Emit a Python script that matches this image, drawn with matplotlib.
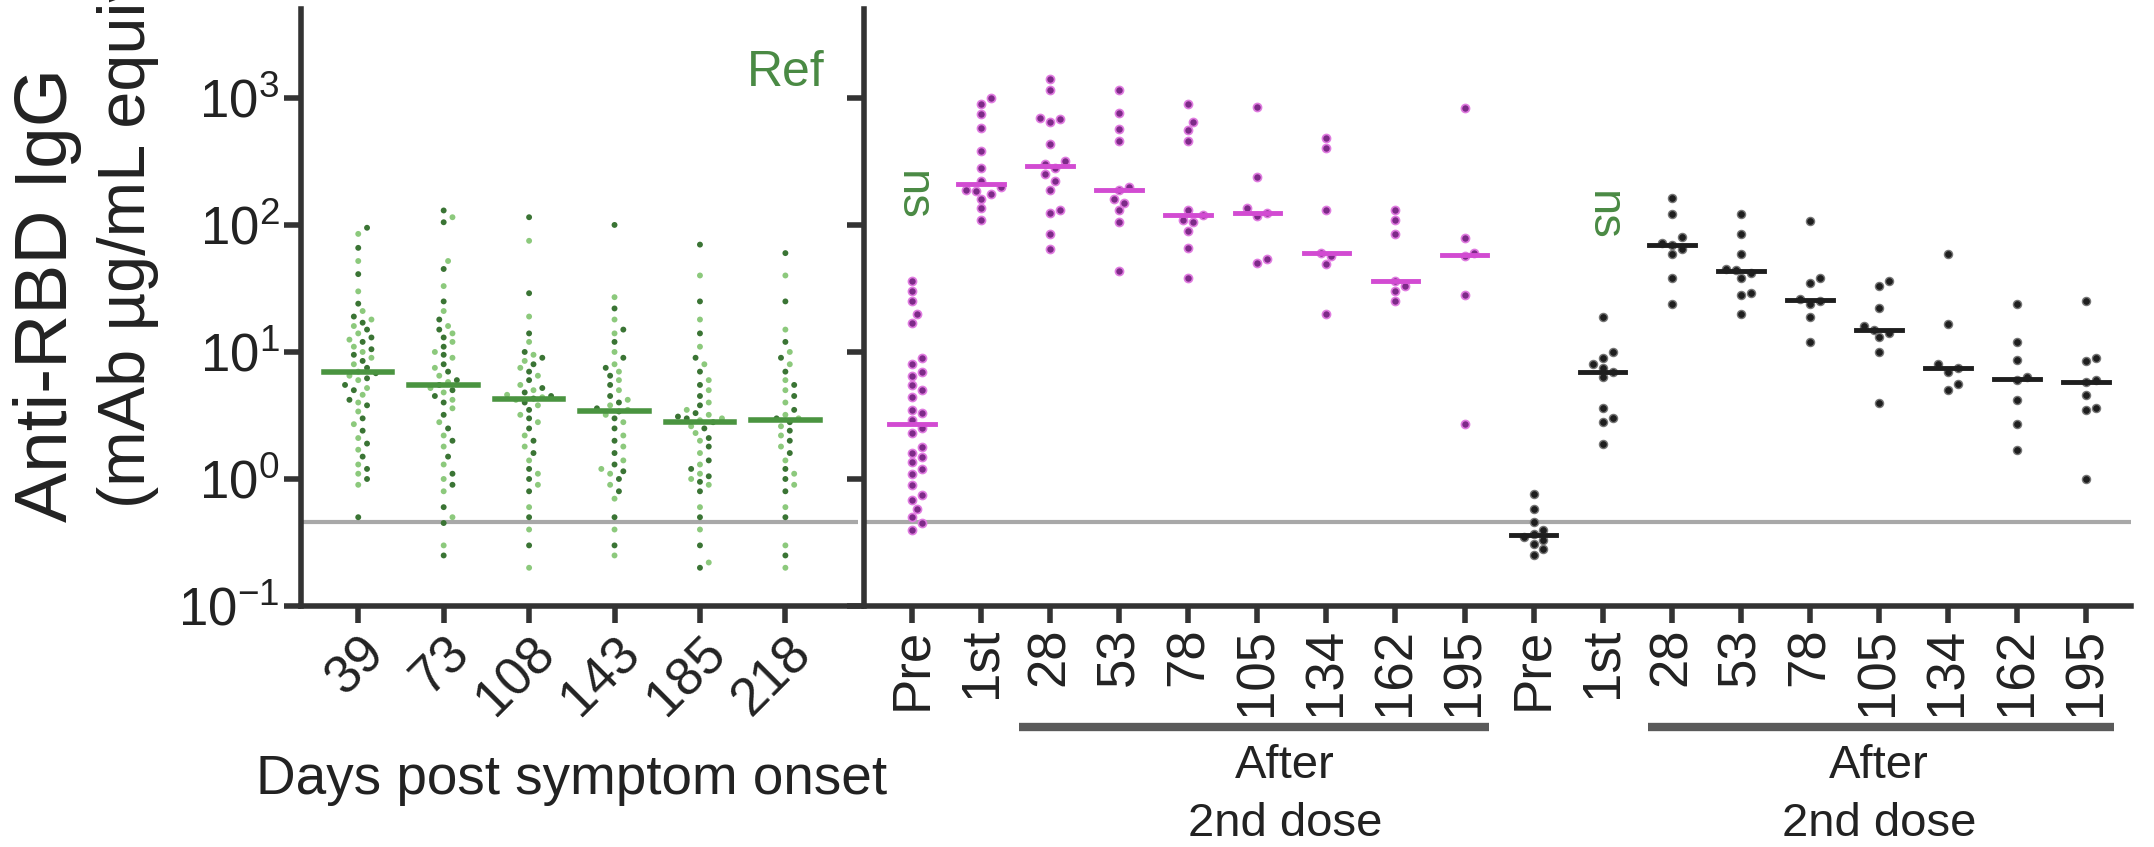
import numpy as np
import matplotlib
matplotlib.use("Agg")
import matplotlib.pyplot as plt
import matplotlib.transforms as mtransforms

plt.rcParams['font.family'] = ['Liberation Sans', 'DejaVu Sans']
plt.rcParams['mathtext.fontset'] = 'custom'
plt.rcParams['mathtext.rm'] = 'Liberation Sans'
plt.rcParams['mathtext.it'] = 'Liberation Sans:italic'
plt.rcParams['mathtext.bf'] = 'Liberation Sans:bold'

# ---- datos ----
days_labels = ["39", "73", "108", "143", "185", "218"]
d39 = [95, 85, 66, 52, 41, 30, 24, 21, 19, 18, 17, 16, 15, 14, 13, 12.5, 12, 11, 10.5, 10, 9.5, 9,
       8.5, 8, 7.5, 7, 6.8, 6.5, 6.2, 6, 5.5, 5.2, 5, 4.6, 4.2, 4, 3.8, 3.4, 3, 2.7, 2.4, 2.1, 1.9,
       1.7, 1.5, 1.3, 1.2, 1.1, 1.0, 0.9, 0.5]
d73 = [130, 115, 105, 52, 45, 33, 25, 21, 18, 16, 15, 14, 13, 12, 11, 10, 9.5, 9, 8, 7.5, 7, 6.5,
       6, 5.8, 5.5, 5.2, 5, 4.8, 4.5, 4.2, 4, 3.6, 3.2, 2.8, 2.5, 2.2, 2, 1.8, 1.5, 1.3, 1.1, 1.0,
       0.9, 0.8, 0.6, 0.5, 0.45, 0.3, 0.25]
d108 = [115, 75, 29, 19, 14, 12, 10, 9.5, 9, 8.5, 8, 7.5, 7, 6.5, 6, 5.5, 5.2, 5, 4.8, 4.6, 4.5,
        4.4, 4.3, 4.2, 4, 3.8, 3.5, 3.2, 3, 2.8, 2.5, 2.2, 2, 1.8, 1.6, 1.4, 1.2, 1.1, 1.0, 0.9,
        0.8, 0.6, 0.5, 0.4, 0.3, 0.2]
d143 = [100, 27, 22, 18, 15, 14, 12, 10, 9, 8, 7.5, 7, 6.5, 6, 5.5, 5, 4.5, 4.2, 4, 3.8, 3.6,
        3.5, 3.4, 3.2, 3, 2.8, 2.5, 2.2, 2, 1.8, 1.6, 1.4, 1.3, 1.2, 1.15, 1.1, 1.0, 0.9, 0.8,
        0.7, 0.5, 0.4, 0.3, 0.25]
d185 = [70, 40, 25, 18, 14, 11, 9, 8, 7, 6, 5.5, 5, 4.5, 4, 3.8, 3.5, 3.3, 3.2, 3.1, 3, 3, 2.9,
        2.8, 2.6, 2.5, 2.3, 2.1, 2, 1.8, 1.6, 1.4, 1.3, 1.2, 1.1, 1.05, 1.0, 0.95, 0.9, 0.8, 0.6,
        0.5, 0.4, 0.3, 0.22, 0.2]
d218 = [60, 40, 25, 15, 12, 10, 9, 8, 7, 6, 5.5, 5, 4.5, 4, 3.5, 3.2, 3, 3, 2.8, 2.6, 2.4, 2.2,
        2, 1.8, 1.6, 1.4, 1.2, 1.1, 1.0, 0.9, 0.8, 0.6, 0.5, 0.3, 0.25, 0.2]
conv_groups = [d39, d73, d108, d143, d185, d218]

vax_labels = ["Pre", "1st", "28", "53", "78", "105", "134", "162", "195"]
# grupo 1 (magenta)
v1_pre = [36, 30, 25, 20, 17, 9, 8, 7, 6.5, 5.5, 5, 4.4, 3.5, 3.3, 2.9, 2.5, 2.3, 1.8, 1.6, 1.5,
          1.35, 1.2, 1.1, 0.9, 0.75, 0.68, 0.58, 0.5, 0.45, 0.4]
v1_1st = [1000, 900, 750, 580, 380, 280, 220, 200, 190, 185, 175, 160, 135, 110]
v1_28 = [1400, 1150, 700, 680, 650, 430, 320, 300, 280, 250, 220, 190, 130, 125, 85, 65]
v1_53 = [1150, 760, 570, 460, 200, 190, 160, 150, 130, 105, 43]
v1_78 = [900, 650, 560, 460, 130, 120, 110, 105, 90, 66, 38]
v1_105 = [850, 240, 135, 125, 118, 54, 50]
v1_134 = [480, 400, 130, 60, 57, 49, 20]
v1_162 = [130, 110, 85, 36, 33, 30, 25]
v1_195 = [830, 79, 60, 57, 28, 2.7]
# grupo 2 (negro)
v2_pre = [0.76, 0.58, 0.46, 0.4, 0.37, 0.35, 0.33, 0.31, 0.28, 0.25]
v2_1st = [19, 10, 9, 8, 7.5, 7, 6.3, 3.6, 3.0, 2.8, 1.9]
v2_28 = [163, 122, 80, 72, 70, 65, 59, 38, 24]
v2_53 = [122, 85, 59, 45, 44, 42, 38, 29, 28, 20]
v2_78 = [108, 38, 35, 26, 25, 24, 19, 12]
v2_105 = [36, 33, 22, 16, 15, 14, 13, 10, 4]
v2_134 = [59, 16.5, 8, 7.5, 7, 5.6, 5]
v2_162 = [24, 12, 8.6, 6.3, 6, 4.2, 2.7, 1.7]
v2_195 = [25, 9, 8.5, 6, 5.8, 4.6, 3.6, 3.5, 1.0]
vax1 = [v1_pre, v1_1st, v1_28, v1_53, v1_78, v1_105, v1_134, v1_162, v1_195]
vax2 = [v2_pre, v2_1st, v2_28, v2_53, v2_78, v2_105, v2_134, v2_162, v2_195]

lod = 0.46

W, H = 2154, 847
fig = plt.figure(figsize=(W / 100, H / 100), dpi=100, facecolor='white')

ax_bot, ax_top = 606, 9
axL = fig.add_axes([301 / W, 1 - ax_bot / H, (858 - 301) / W, (ax_bot - ax_top) / H])
axR = fig.add_axes([864 / W, 1 - ax_bot / H, (2131 - 864) / W, (ax_bot - ax_top) / H])

ymin, ymax = 0.1, 10 ** 3.7
px_dec = (ax_bot - ax_top) / np.log10(ymax / ymin)


def swarm(vals, xc, px_unit, dpx):
    """offsets tipo beeswarm en unidades de x"""
    ly = np.log10(np.asarray(vals, float)) * px_dec
    order = np.argsort(ly)
    placed = []
    xs = np.zeros(len(vals))
    step = dpx * 0.55
    for i in order:
        k = 0
        while True:
            cands = [0.0] if k == 0 else [k * step, -k * step]
            ok = None
            for c in cands:
                if all((c - px) ** 2 + (ly[i] - py) ** 2 >= dpx ** 2 for px, py in placed):
                    ok = c
                    break
            if ok is not None:
                break
            k += 1
        placed.append((ok, ly[i]))
        xs[i] = xc + ok / px_unit
    return xs


axis_col = '#333333'
for ax in (axL, axR):
    ax.set_yscale('log')
    ax.set_ylim(ymin, ymax)
    ax.spines['top'].set_visible(False)
    ax.spines['right'].set_visible(False)
    for s in ('left', 'bottom'):
        ax.spines[s].set_linewidth(4)
        ax.spines[s].set_color(axis_col)
    ax.tick_params(axis='both', which='major', length=12, width=4, color=axis_col,
                   labelsize=38, labelcolor='#222222', direction='out')
    ax.tick_params(axis='y', which='minor', length=0)
    ax.axhline(lod, color='#a8a8a8', lw=3, zorder=1)

axL.set_yticks([0.1, 1, 10, 100, 1000])
axR.set_yticks([0.1, 1, 10, 100, 1000])
axR.tick_params(axis='y', labelleft=False)

# panel izquierdo: convalecientes
axL.set_xlim(-0.67, 5.85)
pxL = (858 - 301) / (5.85 + 0.67)
green_dk, green_lt = '#3a7434', '#8cc97c'
for i, vals in enumerate(conv_groups):
    xs = swarm(vals, i, pxL, 8)
    cols = [green_dk if j % 2 == 0 else green_lt for j in range(len(vals))]
    axL.scatter(xs, vals, s=18, c=cols, edgecolors='none', zorder=3)
    m = np.median(vals)
    axL.plot([i - 0.4, i + 0.4], [m, m], color='#4a9440', lw=4, zorder=4)
axL.set_xticks(range(len(days_labels)))
axL.set_xticklabels(days_labels, rotation=45, ha='right', rotation_mode='anchor')

# panel derecho: vacunados
axR.set_xlim(-0.695, 17.65)
pxR = (2131 - 864) / (17.65 + 0.695)
mag_dot, mag_line = '#7d2a88', '#d24bd2'
for i, vals in enumerate(vax1):
    xs = swarm(vals, i, pxR, 9)
    axR.scatter(xs, vals, s=34, color=mag_dot, edgecolors='#e07be0', linewidths=1.2, zorder=3)
    m = np.median(vals)
    axR.plot([i - 0.33, i + 0.33], [m, m], color=mag_line, lw=3.5, zorder=4)
for i, vals in enumerate(vax2):
    xc = i + len(vax1)
    xs = swarm(vals, xc, pxR, 9)
    axR.scatter(xs, vals, s=34, color='#1e1e1e', edgecolors='#777777', linewidths=1.0, zorder=3)
    m = np.median(vals)
    axR.plot([xc - 0.33, xc + 0.33], [m, m], color='#1e1e1e', lw=3.5, zorder=4)
axR.set_xticks(range(2 * len(vax_labels)))
axR.set_xticklabels(vax_labels * 2, rotation=90)

# anotaciones
axL.text(5, 10 ** 3.2, "Ref", color='#4a8a44', fontsize=36, ha='center', va='center')
axR.text(0, 170, "ns", color='#4a8a44', fontsize=34, rotation=-90, ha='center', va='center')
axR.text(10, 118, "ns", color='#4a8a44', fontsize=34, rotation=-90, ha='center', va='center')

trans = mtransforms.blended_transform_factory(axR.transData, axR.transAxes)
for x0, x1, xt in [(1.55, 8.35, 5.4), (10.65, 17.4, 14.0)]:
    axR.plot([x0, x1], [-0.203, -0.203], transform=trans, color='#5a5a5a', lw=6, clip_on=False,
             solid_capstyle='butt')
    axR.text(xt, -0.268, "After", transform=trans, fontsize=34, ha='center', va='center', color='#222222')
    axR.text(xt, -0.365, "2nd dose", transform=trans, fontsize=34, ha='center', va='center', color='#222222')

fig.text(572 / W, 1 - 780 / H, "Days post symptom onset", fontsize=39.5, ha='center', va='center',
         color='#222222')

# etiqueta del eje y (dos lineas, la segunda queda cortada arriba como en el original)
fig.text(48 / W, 1 - 522 / H, "Anti-RBD IgG", fontsize=54, rotation=90, ha='center', va='bottom',
         color='#222222')
fig.text(128 / W, 1 - 508 / H, "(mAb µg/mL equiv.)", fontsize=48, rotation=90, ha='center',
         va='bottom', color='#222222')

fig.savefig("out.png", dpi=100, facecolor='white')
